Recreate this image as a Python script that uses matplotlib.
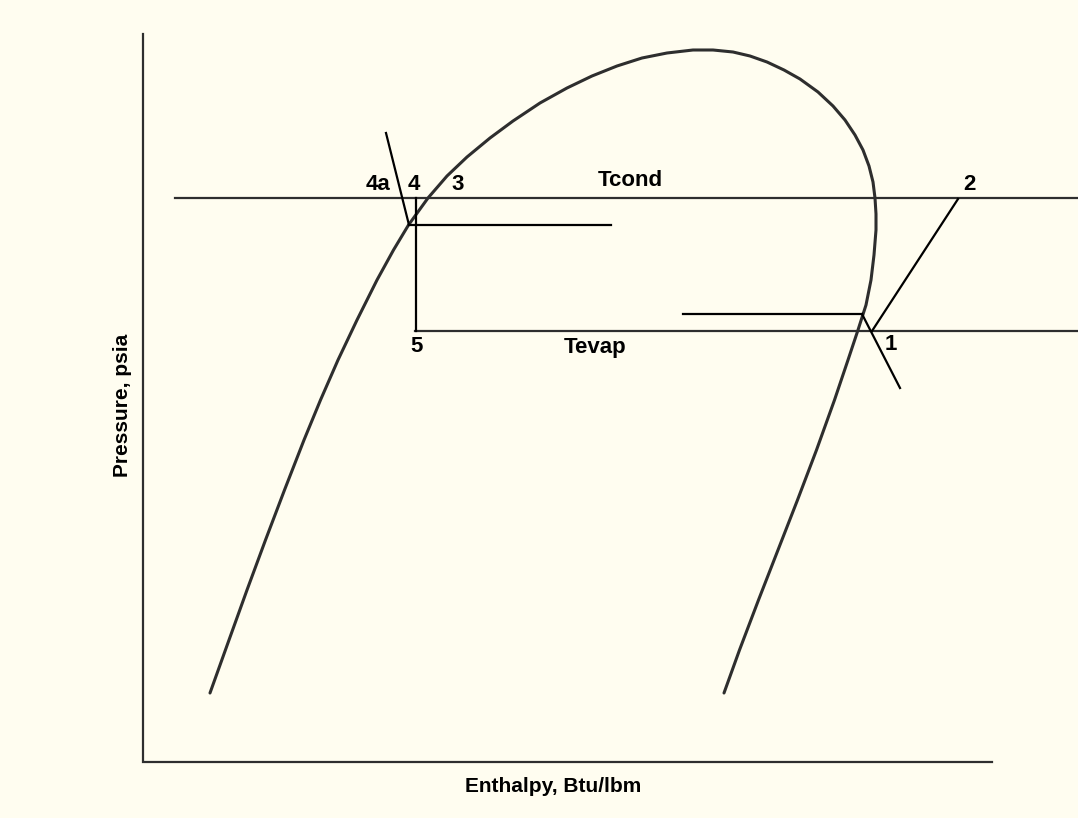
import matplotlib
matplotlib.use("Agg")
import matplotlib.pyplot as plt

# Pressure-enthalpy sketch of a vapour-compression cycle.
# Values are diagram units (x grows right, y grows down).

# saturation dome: liquid line up the left, over the top, vapour line down the right
dome_x = [210, 229, 247, 265.5, 284.5, 304, 320.5, 338, 357, 377, 393.5, 408.5, 428,
          447, 467, 490, 513, 540, 567, 592, 617, 642, 667, 693, 713, 733,
          750, 767, 784, 800, 818, 833, 845, 855, 863, 869, 873, 875, 876,
          876, 874, 871, 866, 858, 848, 834.5, 816.5, 797.5, 778, 758.5, 739.5, 724]
dome_y = [693, 640, 590, 540, 490, 440, 400, 360, 320, 280, 250, 225, 198,
          176, 157, 138, 121, 103, 88, 76, 66, 58, 53, 50, 50, 52,
          56, 62, 70, 79, 92, 106, 120, 135, 150, 166, 182, 198, 214,
          230, 255, 280, 305, 330, 360, 400, 450, 500, 550, 600, 650, 693]

# axes frame
frame_x = [143, 143, 992]
frame_y = [34, 762, 762]

# constant-pressure lines
cond_y = 198
cond_x = [175, 1078]
evap_y = 331
evap_x = [415, 1078]

# cycle construction lines
exp_x = [416, 416]          # expansion 4 -> 5
exp_y = [198, 331]
sub_x = [409, 611]          # subcooled level
sub_y = [225, 225]
slant4a_x = [386, 409]
slant4a_y = [133, 225]
sup_x = [683, 862]          # superheat level
sup_y = [314, 314]
slant1_x = [862, 900]
slant1_y = [314, 388]
comp_x = [872, 958]         # compression 1 -> 2
comp_y = [331, 199]

labels = ["4a", "4", "3", "Tcond", "2", "1", "5", "Tevap"]
label_x = [378, 414, 458, 630, 969, 891, 417, 595]
label_y = [185, 185, 185, 180, 184, 345, 347, 347]

ink = "#2e2e2e"
bg = "#fffdf0"

fig = plt.figure(figsize=(10.78, 8.18), dpi=100, facecolor=bg)
ax = fig.add_axes([0, 0, 1, 1])
ax.set_facecolor(bg)
ax.set_xlim(0, 1078)
ax.set_ylim(818, 0)
ax.axis("off")

ax.plot(frame_x, frame_y, color=ink, lw=1.6, solid_joinstyle="miter")
ax.plot(dome_x, dome_y, color=ink, lw=2.2, solid_capstyle="round",
        solid_joinstyle="round")
ax.plot(cond_x, [cond_y, cond_y], color=ink, lw=1.6)
ax.plot(evap_x, [evap_y, evap_y], color=ink, lw=1.6)
for xs, ys in [(exp_x, exp_y), (sub_x, sub_y), (slant4a_x, slant4a_y),
               (sup_x, sup_y), (slant1_x, slant1_y), (comp_x, comp_y)]:
    ax.plot(xs, ys, color="black", lw=1.6)

font = dict(family="Liberation Sans", weight="bold", color="black")
for txt, x, y in zip(labels, label_x, label_y):
    ax.text(x, y, txt, ha="center", va="center", fontsize=16, **font)

ax.text(553, 787, "Enthalpy, Btu/lbm", ha="center", va="center",
        fontsize=15, **font)
ax.text(122, 405, "Pressure, psia", ha="center", va="center",
        rotation=90, fontsize=15, **font)

fig.savefig("out.png", dpi=100, facecolor=bg)
